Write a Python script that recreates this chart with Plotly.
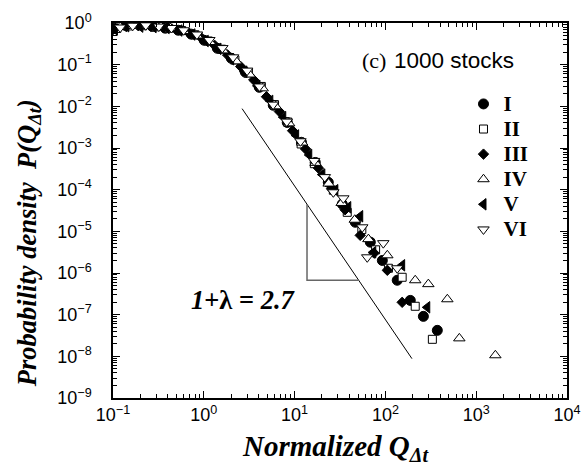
import plotly.graph_objects as go

# ---- data ----
SERIES_NAMES = ["I", "II", "III", "IV", "V", "VI"]

I_X = [0.103, 0.136, 0.19, 0.27, 0.377, 0.524, 0.728, 1.01, 1.41, 2.01, 2.87, 4.08, 5.82, 8.30, 11.9,
       16.9, 23.5, 33.5, 46.6, 68.2, 92.5, 135, 188, 262, 373]
I_Y = [0.746, 0.88, 0.93, 0.83, 0.75, 0.67, 0.54, 0.385, 0.247, 0.142, 0.066, 0.0286, 0.0106, 0.0041, 0.00137,
       4.5e-4, 1.5e-4, 4.5e-5, 1.65e-5, 5.5e-6, 2.0e-6, 6.7e-7, 2.2e-7, 9.1e-8, 4.2e-8]

II_X = [0.11, 0.15, 0.21, 0.29, 0.41, 0.57, 0.80, 1.12, 1.57, 2.2, 3.1, 4.3, 6.0, 8.4, 11.8,
        16.5, 26.7, 38.0, 55, 78, 108, 153, 213, 329]
II_Y = [0.74, 0.85, 0.86, 0.81, 0.75, 0.66, 0.52, 0.37, 0.235, 0.13, 0.064, 0.030, 0.0110, 0.0042, 0.00125,
        4.2e-4, 9.7e-5, 2.86e-5, 1.1e-5, 3.6e-6, 1.3e-6, 7.9e-7, 1.59e-7, 2.56e-8]

III_X = [0.10, 0.14, 0.19, 0.26, 0.36, 0.50, 0.69, 0.95, 1.32, 1.83, 2.55, 3.55, 4.9, 6.8, 9.5,
         13.2, 18.3, 25.5, 36, 52.8, 75, 105, 153]
III_Y = [0.70, 0.82, 0.86, 0.84, 0.77, 0.69, 0.57, 0.43, 0.29, 0.17, 0.09, 0.043, 0.017, 0.0075, 0.0026,
         9.5e-4, 3.3e-4, 1.05e-4, 3.3e-5, 8.0e-6, 3.0e-6, 1.16e-6, 1.98e-7]

IV_X = [0.12, 0.16, 0.22, 0.31, 0.43, 0.60, 0.84, 1.17, 1.63, 2.28, 3.2, 4.45, 6.2, 8.7, 12.1,
        17, 23.7, 33, 46, 65, 105, 213, 297, 481, 652, 1625]
IV_Y = [0.80, 0.86, 0.85, 0.80, 0.75, 0.64, 0.50, 0.35, 0.22, 0.12, 0.058, 0.027, 0.0100, 0.0039, 0.00135,
        4.4e-4, 1.4e-4, 4.8e-5, 1.9e-5, 6.5e-6, 2.66e-6, 6.7e-7, 5.4e-7, 2.34e-7, 2.7e-8, 1.06e-8]

V_X = [0.105, 0.14, 0.20, 0.28, 0.39, 0.54, 0.75, 1.05, 1.45, 2.0, 2.8, 3.9, 5.4, 7.5, 10.4,
       14.5, 20.2, 28.1, 39.0, 52.8, 73.5, 153, 289]
V_Y = [0.70, 0.84, 0.82, 0.80, 0.76, 0.66, 0.53, 0.37, 0.24, 0.135, 0.068, 0.031, 0.0135, 0.0055, 0.0020,
       6.8e-4, 2.3e-4, 9.7e-5, 3.78e-5, 2.3e-5, 3.14e-6, 1.53e-6, 1.50e-7]

VI_X = [0.12, 0.165, 0.23, 0.32, 0.44, 0.60, 0.84, 1.15, 1.6, 2.1, 3.0, 4.1, 5.8, 8.2, 11.6,
        16.4, 21.5, 26.7, 34.4, 55.6, 63.1, 94.8, 135]
VI_Y = [0.78, 0.86, 0.88, 0.82, 0.76, 0.67, 0.53, 0.39, 0.25, 0.15, 0.072, 0.030, 0.011, 0.0043, 0.00145,
        4.9e-4, 2.0e-4, 8.65e-5, 6.2e-5, 1.25e-5, 2.38e-6, 5.2e-6, 1.30e-6]

# guide line (slope) and triangle
SLOPE_X = [2.64, 196]
SLOPE_Y = [8.8e-3, 8.8e-9]
TRI_X = [13.7, 13.7, 50.9]
TRI_Y = [4.46e-5, 6.68e-7, 6.68e-7]

X_TICKS = [0.1, 1, 10, 100, 1000, 10000]
X_TICK_TEXT = ["10<sup>\u22121</sup>", "10<sup>0</sup>", "10<sup>1</sup>", "10<sup>2</sup>",
               "10<sup>3</sup>", "10<sup>4</sup>"]
Y_TICKS = [1e-9, 1e-8, 1e-7, 1e-6, 1e-5, 1e-4, 1e-3, 1e-2, 1e-1, 1]
Y_TICK_TEXT = ["10<sup>\u22129</sup>", "10<sup>\u22128</sup>", "10<sup>\u22127</sup>", "10<sup>\u22126</sup>",
               "10<sup>\u22125</sup>", "10<sup>\u22124</sup>", "10<sup>\u22123</sup>", "10<sup>\u22122</sup>",
               "10<sup>\u22121</sup>", "10<sup>0</sup>"]

# ---- styles ----
SERIF = "Liberation Serif, Times New Roman, serif"
SANS = "Liberation Sans, Arial, sans-serif"

styles = [
    dict(symbol="circle", size=10, color="black", line=dict(color="black", width=1)),
    dict(symbol="square", size=8, color="white", line=dict(color="black", width=1)),
    dict(symbol="diamond", size=8, color="black", line=dict(color="black", width=1)),
    dict(symbol="triangle-up", size=10, color="white", line=dict(color="black", width=1)),
    dict(symbol="triangle-left", size=10, color="black", line=dict(color="black", width=1)),
    dict(symbol="triangle-down", size=10, color="white", line=dict(color="black", width=1)),
]

data = [(I_X, I_Y), (II_X, II_Y), (III_X, III_Y), (IV_X, IV_Y), (V_X, V_Y), (VI_X, VI_Y)]

fig = go.Figure()

fig.add_trace(go.Scatter(x=SLOPE_X, y=SLOPE_Y, mode="lines",
                         line=dict(color="black", width=1), showlegend=False, hoverinfo="skip"))
fig.add_trace(go.Scatter(x=TRI_X, y=TRI_Y, mode="lines",
                         line=dict(color="#666666", width=1.5), showlegend=False, hoverinfo="skip"))

for name, (xs, ys), st in zip(SERIES_NAMES, data, styles):
    fig.add_trace(go.Scatter(x=xs, y=ys, mode="markers",
                             name="<span style='font-size:21px'>" + name + "</span>", marker=st))

axis_common = dict(
    type="log", showline=True, linecolor="black", linewidth=1.5, mirror="allticks",
    ticks="inside", ticklen=7, tickwidth=1, tickcolor="black",
    showgrid=False, zeroline=False, automargin=False,
    tickfont=dict(family=SANS, size=18, color="black"),
    minor=dict(ticks="inside", ticklen=4, tickwidth=1, tickcolor="black", dtick="D1", showgrid=False),
)

fig.update_xaxes(**axis_common, range=[-1, 4], tickmode="array", tickvals=X_TICKS, ticktext=X_TICK_TEXT)
fig.update_yaxes(**axis_common, range=[-9, 0], tickmode="array", tickvals=Y_TICKS, ticktext=Y_TICK_TEXT,
                 ticklabelstandoff=16)

# axis titles
fig.add_annotation(xref="paper", yref="paper", x=0.491, y=-0.134, xanchor="center", yanchor="middle",
                   text="<b><i>Normalized Q<sub>Δt</sub></i></b>", showarrow=False,
                   font=dict(family=SERIF, size=29, color="black"))
fig.add_annotation(xref="paper", yref="paper", x=-0.185, y=0.413, xanchor="center", yanchor="middle",
                   textangle=-90,
                   text="<b><i>Probability density \u00a0P(Q<sub>Δt</sub>)</i></b>", showarrow=False,
                   font=dict(family=SERIF, size=26.5, color="black"))

fig.add_annotation(xref="paper", yref="paper", x=0.287, y=0.2605, xanchor="center", yanchor="middle",
                   text="<b><i>1</i>+λ = <i>2.7</i></b>", showarrow=False,
                   font=dict(family=SERIF, size=26.5, color="black"))
fig.add_annotation(xref="paper", yref="paper", x=0.544, y=0.9005, xanchor="left", yanchor="middle",
                   text="(c)", showarrow=False, font=dict(family=SERIF, size=22, color="black"))
fig.add_annotation(xref="paper", yref="paper", x=0.614, y=0.9005, xanchor="left", yanchor="middle",
                   text="1000 stocks", showarrow=False, font=dict(family=SANS, size=22.5, color="black"))

fig.update_layout(
    width=582, height=470,
    margin=dict(l=113, r=15, t=23, b=72, autoexpand=False),
    paper_bgcolor="white", plot_bgcolor="white",
    legend=dict(x=0.772, y=0.831, xanchor="left", yanchor="top",
                font=dict(family=SERIF, size=17, color="black", weight="bold"),
                bgcolor="rgba(0,0,0,0)", itemwidth=30, tracegroupgap=0),
)

fig.write_html("out.html")
